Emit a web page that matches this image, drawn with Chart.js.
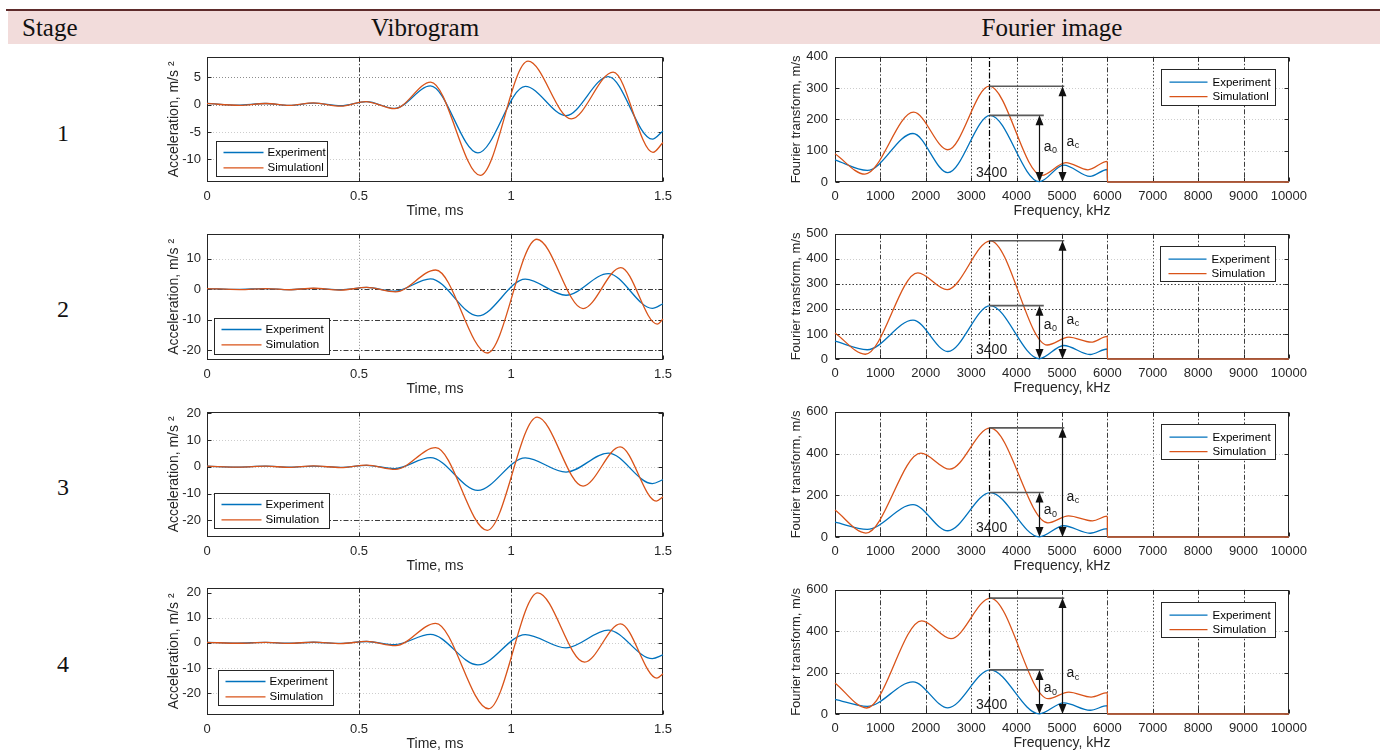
<!DOCTYPE html>
<html><head><meta charset="utf-8">
<script src="https://cdn.jsdelivr.net/npm/chart.js@4.4.1/dist/chart.umd.min.js"></script>
<style>
html,body{margin:0;padding:0;background:#fff;width:1380px;height:751px;overflow:hidden;position:relative;}
.topline{position:absolute;left:6px;top:9px;width:1374px;height:2px;background:#5e2b2b;}
.band{position:absolute;left:8px;top:11px;width:1372px;height:33px;background:#f2dcdb;}
.hd{position:absolute;top:11px;height:33px;line-height:33px;font-family:'Liberation Serif',serif;font-size:25px;color:#111;text-align:center;white-space:nowrap;}
.stage{position:absolute;left:43px;width:40px;height:30px;line-height:30px;text-align:center;font-family:'Liberation Serif',serif;font-size:24px;color:#111;}
canvas{position:absolute;}
</style></head><body>
<div class="topline"></div>
<div class="band"></div>
<div class="hd" style="left:22px;">Stage</div>
<div class="hd" style="left:325px;width:200px;">Vibrogram</div>
<div class="hd" style="left:952px;width:200px;">Fourier image</div>
<script>
// ---------------- DATA ----------------
const stageLabels = ['1', '2', '3', '4'];

// Vibrogram, time in ms, acceleration in m/s^2 (extrema)
const expTime  = [0, 0.1, 0.19, 0.27, 0.35, 0.44, 0.525, 0.617, 0.735, 0.891, 1.047, 1.181, 1.32, 1.465, 1.5];
const expAccel = [0.2, -0.1, 0.2, -0.15, 0.25, -0.2, 0.55, -0.7, 3.4, -8.8, 3.3, -2.0, 5.1, -6.3, -4.8];

const simTime1  = [0, 0.107, 0.195, 0.27, 0.35, 0.44, 0.522, 0.617, 0.736, 0.899, 1.056, 1.198, 1.336, 1.467, 1.5];
const simAccel1 = [0.2, -0.15, 0.2, -0.15, 0.3, -0.3, 0.55, -0.75, 4.1, -12.9, 7.9, -2.6, 5.9, -8.7, -6.9];
const simTime2  = [0, 0.107, 0.195, 0.27, 0.35, 0.44, 0.525, 0.62, 0.752, 0.922, 1.085, 1.237, 1.361, 1.481, 1.5];
const simAccel2 = [0.2, -0.15, 0.2, -0.2, 0.3, -0.3, 0.55, -0.9, 6.3, -21.0, 16.4, -6.4, 7.1, -11.5, -9.8];
const simTime3  = [0, 0.107, 0.195, 0.27, 0.35, 0.44, 0.525, 0.62, 0.752, 0.922, 1.086, 1.237, 1.359, 1.478, 1.5];
const simAccel3 = [0.2, -0.15, 0.2, -0.2, 0.3, -0.3, 0.6, -1.0, 7.1, -23.7, 18.5, -7.2, 7.4, -12.8, -11.2];
const simTime4  = [0, 0.107, 0.195, 0.27, 0.35, 0.44, 0.525, 0.62, 0.752, 0.926, 1.088, 1.242, 1.36, 1.48, 1.5];
const simAccel4 = [0.2, -0.15, 0.2, -0.2, 0.3, -0.3, 0.6, -1.1, 7.8, -26.3, 20.0, -7.7, 7.6, -14.1, -12.3];

const vibXTicks = [0, 0.5, 1, 1.5];
const vibYTicks1 = [-10, -5, 0, 5];
const vibYTicks2 = [-20, -10, 0, 10];
const vibYTicks3 = [-20, -10, 0, 10, 20];
const vibYTicks4 = [-20, -10, 0, 10, 20];
const vibYRange1 = [-14.1, 8.7];
const vibYRange2 = [-23.3, 18.2];
const vibYRange3 = [-26.2, 20.5];
const vibYRange4 = [-28.8, 22.0];

// Fourier image, frequency in kHz, amplitude in m/s
const expFreq = [0, 710, 1718, 2486, 3420, 4500, 5040, 5620, 6000, 6001, 10000];
const expAmp  = [71, 37, 155, 30, 213, 1, 54, 18, 40, 0, 0];

const simFreq1 = [0, 658, 1733, 2486, 3400, 4554, 5087, 5572, 6000, 6001, 10000];
const simAmp1  = [90, 25, 223, 103, 306, 21, 62, 39, 66, 0, 0];
const simFreq2 = [0, 667, 1825, 2470, 3424, 4675, 5150, 5644, 6000, 6001, 10000];
const simAmp2  = [104, 19, 344, 277, 472, 56, 87, 67, 90, 0, 0];
const simFreq3 = [0, 680, 1891, 2525, 3419, 4690, 5144, 5673, 6000, 6001, 10000];
const simAmp3  = [129, 19, 402, 325, 523, 68, 101, 77, 100, 0, 0];
const simFreq4 = [0, 697, 1910, 2555, 3424, 4697, 5150, 5644, 6000, 6001, 10000];
const simAmp4  = [150, 29, 450, 364, 560, 74, 106, 82, 103, 0, 0];

const fftXTicks = [0, 1000, 2000, 3000, 4000, 5000, 6000, 7000, 8000, 9000, 10000];
const fftYTicks1 = [0, 100, 200, 300, 400];
const fftYTicks2 = [0, 100, 200, 300, 400, 500];
const fftYTicks3 = [0, 200, 400, 600];
const fftYTicks4 = [0, 200, 400, 600];
const fftYMax = [400, 500, 600, 600];

// annotation values (kHz, m/s)
const peakFreq = 3400;
const simPeak = [306, 472, 523, 560];
const expPeak = [213, 213, 213, 213];
const markerTop = [400, 472, 523, 600];
const a0LabelAt = [112, 137, 129, 123];
const acLabelAt = [128, 157, 193, 195];

const simLabels = ['Simulationl', 'Simulation', 'Simulation', 'Simulation'];

// ---------------- STYLE / LAYOUT ----------------
const BLUE = '#0072BD', ORANGE = '#D95319';
const FONT = "'Liberation Sans', Arial, sans-serif";
Chart.defaults.font.family = FONT;
Chart.defaults.color = '#262626';

const GRID = {
  light: {color: '#cdcdcd', dash: [1, 2]},
  mid:   {color: '#8c8c8c', dash: [1, 2]},
  dot:   {color: '#3c3c3c', dash: [1.5, 2]},
  dash:  {color: '#3c3c3c', dash: [5, 2, 1.5, 2]}
};
const vibRows = [[57, 182], [234, 360], [412, 537], [588, 715]];
const fftRows = [[57, 182], [234, 359], [412, 537], [590, 714]];
const stageY = [133, 309, 487, 664];

const vibGridX = [
  [[0.5, 'dash'], [1, 'dash']],
  [[0.5, 'mid'], [1, 'dot']],
  [[0.5, 'mid'], [1, 'dash']],
  [[0.5, 'dash'], [1, 'dash']]
];
const vibGridY = [
  [[-10, 'light'], [-5, 'light'], [0, 'mid'], [5, 'mid']],
  [[-20, 'dash'], [-10, 'dash'], [0, 'dash'], [10, 'light']],
  [[-20, 'dash'], [-10, 'light'], [0, 'light'], [10, 'light']],
  [[-20, 'light'], [-10, 'light'], [0, 'light'], [10, 'light']]
];
const fftGridXStyle = [[1000,'dash'],[2000,'dash'],[3000,'dot'],[4000,'dot'],[5000,'dash'],[6000,'dash'],[7000,'dot'],[8000,'dash'],[9000,'dash']];
const fftGridY = [
  [[100,'light'],[200,'light'],[300,'light']],
  [[100,'dot'],[200,'dot'],[300,'dot'],[400,'light']],
  [[200,'light'],[400,'light']],
  [[200,'light'],[400,'light']]
];
const vibLegendBox = [[9, 83.7, 111, 35.3], [7, 84, 115, 35.6], [7, 81.5, 115, 35], [11, 82.5, 115, 35]];
const fftLegendBox = [[326, 12, 114, 36], [325, 12, 115, 34.6], [325.5, 11.7, 113.5, 35], [325.6, 12, 114, 35]];

// ---------------- HELPERS ----------------
function zip(xs, ys) { return xs.map((v, i) => ({x: v, y: ys[i]})); }
function strokeLine(ctx, x0, y0, x1, y1, st) {
  ctx.save(); ctx.strokeStyle = st.color; ctx.setLineDash(st.dash || []); ctx.lineWidth = st.width || 1;
  ctx.beginPath(); ctx.moveTo(x0, y0); ctx.lineTo(x1, y1); ctx.stroke(); ctx.restore();
}
function dblArrow(ctx, px, yb, yt) {
  ctx.save(); ctx.strokeStyle = '#111'; ctx.fillStyle = '#111'; ctx.lineWidth = 1.2; ctx.setLineDash([]);
  ctx.beginPath(); ctx.moveTo(px, yb - 6); ctx.lineTo(px, yt + 6); ctx.stroke();
  ctx.beginPath(); ctx.moveTo(px, yt); ctx.lineTo(px - 4, yt + 10); ctx.lineTo(px + 4, yt + 10); ctx.closePath(); ctx.fill();
  ctx.beginPath(); ctx.moveTo(px, yb); ctx.lineTo(px - 4, yb - 10); ctx.lineTo(px + 4, yb - 10); ctx.closePath(); ctx.fill();
  ctx.restore();
}
function subLabel(ctx, base, sub, x, y) {
  ctx.save(); ctx.fillStyle = '#1a1a1a'; ctx.textBaseline = 'middle'; ctx.textAlign = 'left';
  ctx.font = '14px ' + FONT; ctx.fillText(base, x, y);
  const w = ctx.measureText(base).width;
  ctx.font = '9px ' + FONT; ctx.fillText(sub, x + w + 0.5, y + 4);
  ctx.restore();
}

const matlabPlugin = {
  id: 'matlab',
  beforeDatasetsDraw(chart, args, o) {
    const {ctx, chartArea: a, scales: {x, y}} = chart;
    (o.gridX || []).forEach(([v, s]) => { const p = Math.round(x.getPixelForValue(v)) + 0.5; strokeLine(ctx, p, a.top, p, a.bottom, GRID[s]); });
    (o.gridY || []).forEach(([v, s]) => { const p = Math.round(y.getPixelForValue(v)) + 0.5; strokeLine(ctx, a.left, p, a.right, p, GRID[s]); });
    ctx.save(); ctx.strokeStyle = '#262626'; ctx.lineWidth = 1; ctx.setLineDash([]);
    const L = Math.round(a.left) + 0.5, R = Math.round(a.right) - 0.5, T = Math.round(a.top) + 0.5, B = Math.round(a.bottom) - 0.5;
    ctx.strokeRect(L, T, R - L, B - T);
    ctx.beginPath();
    x.ticks.forEach(t => { const p = Math.round(x.getPixelForValue(t.value)) + 0.5; ctx.moveTo(p, B); ctx.lineTo(p, B - 4); ctx.moveTo(p, T); ctx.lineTo(p, T + 4); });
    y.ticks.forEach(t => { const p = Math.round(y.getPixelForValue(t.value)) + 0.5; ctx.moveTo(L, p); ctx.lineTo(L + 4, p); ctx.moveTo(R, p); ctx.lineTo(R - 4, p); });
    ctx.stroke(); ctx.restore();
  },
  afterDatasetsDraw(chart, args, o) {
    const {ctx, chartArea: a, scales: {x, y}} = chart;
    const m = o.marks;
    if (m) {
      const px = v => x.getPixelForValue(v), py = v => y.getPixelForValue(v);
      strokeLine(ctx, Math.round(px(m.freq)) + 0.5, py(0), Math.round(px(m.freq)) + 0.5, py(m.top), {color: '#000', dash: [6, 2, 1.5, 2], width: 1.2});
      strokeLine(ctx, px(m.freq), py(m.sim), px(5050), py(m.sim), {color: '#5a5a5a', width: 1.6});
      strokeLine(ctx, px(m.freq), py(m.exp), px(4600), py(m.exp), {color: '#5a5a5a', width: 1.6});
      dblArrow(ctx, Math.round(px(5000)) + 0.5, py(0), py(m.sim));
      dblArrow(ctx, Math.round(px(4500)) + 0.5, py(0), py(m.exp));
      subLabel(ctx, 'a', '0', px(4600), py(m.a0));
      subLabel(ctx, 'a', 'c', px(5100), py(m.ac));
      ctx.save(); ctx.fillStyle = '#1a1a1a'; ctx.font = '14px ' + FONT; ctx.textAlign = 'center'; ctx.textBaseline = 'middle';
      ctx.fillText(String(m.freq), px(3450), a.bottom - 9); ctx.restore();
    }
    const lg = o.legend;
    if (lg) {
      const L = Math.round(a.left + lg.box[0]) + 0.5, T = Math.round(a.top + lg.box[1]) + 0.5, W = Math.round(lg.box[2]), H = Math.round(lg.box[3]);
      ctx.save();
      ctx.fillStyle = '#fff'; ctx.fillRect(L, T, W, H);
      ctx.strokeStyle = '#262626'; ctx.lineWidth = 1; ctx.setLineDash([]); ctx.strokeRect(L, T, W, H);
      const ds = chart.data.datasets;
      const rows = [ds[1], ds[0]];
      rows.forEach((d, i) => {
        const yy = T + lg.row0 + i * lg.gap;
        strokeLine(ctx, L + lg.s0, yy, L + lg.s1, yy, {color: d.borderColor, width: 1.3});
        ctx.fillStyle = '#000'; ctx.font = '11.5px ' + FONT; ctx.textBaseline = 'middle'; ctx.textAlign = 'left';
        ctx.fillText(d.label, L + lg.tx, yy + 0.5);
      });
      ctx.restore();
    }
  }
};

function makeChart(spec) {
  const cv = document.createElement('canvas');
  const plotH = spec.bottom - spec.top;
  const w = spec.yw + spec.plotW + 25, h = 10 + plotH + 40;
  cv.width = w; cv.height = h;
  cv.style.left = spec.left + 'px'; cv.style.top = (spec.top - 10) + 'px';
  cv.style.width = w + 'px'; cv.style.height = h + 'px';
  document.body.appendChild(cv);
  const common = {pointRadius: 0, borderWidth: 1.3, cubicInterpolationMode: 'monotone', fill: false, clip: false};
  const chart = new Chart(cv, {
    type: 'line',
    data: {datasets: [
      Object.assign({label: spec.simLabel, data: zip(spec.simX, spec.simY), borderColor: ORANGE}, common),
      Object.assign({label: 'Experiment', data: zip(spec.expX, spec.expY), borderColor: BLUE}, common)
    ]},
    options: {
      responsive: false, maintainAspectRatio: false, animation: false, devicePixelRatio: 1,
      layout: {padding: {top: 10, right: 25, bottom: 0, left: 0}},
      events: [],
      plugins: {legend: {display: false}, tooltip: {enabled: false},
        matlab: {gridX: spec.gridX, gridY: spec.gridY, marks: spec.marks, legend: spec.legend}},
      scales: {
        x: {type: 'linear', min: spec.xMin, max: spec.xMax,
          grid: {display: false, drawTicks: false}, border: {display: false},
          afterBuildTicks: s => { s.ticks = spec.xTicks.map(v => ({value: v})); },
          afterFit: s => { s.height = 40; },
          ticks: {padding: 7, autoSkip: false, maxRotation: 0, font: {size: 13}, color: '#262626', callback: v => String(v)},
          title: {display: true, text: spec.xTitle, font: {size: 14}, color: '#262626', padding: {top: 0, bottom: 2}}},
        y: {type: 'linear', min: spec.yMin, max: spec.yMax,
          grid: {display: false, drawTicks: false}, border: {display: false},
          afterBuildTicks: s => { s.ticks = spec.yTicks.map(v => ({value: v})); },
          afterFit: s => { s.width = spec.yw; },
          ticks: {padding: spec.yPad, autoSkip: false, font: {size: 13}, color: '#262626', callback: v => String(v)},
          title: {display: true, text: spec.yTitle, font: {size: spec.yTitleSize}, color: '#262626', padding: {top: spec.yTitlePad, bottom: 0}}}
      }
    },
    plugins: [matlabPlugin]
  });
  // fit the canvas so that the plot box lands exactly where the reference has it
  let ca = chart.chartArea;
  const nw = Math.round(ca.left + spec.plotW + (chart.width - ca.right));
  const nh = Math.round(ca.top + plotH + (chart.height - ca.bottom));
  if (nw !== chart.width || nh !== chart.height) chart.resize(nw, nh);
  ca = chart.chartArea;
  cv.style.left = Math.round(spec.left + spec.yw - ca.left) + 'px';
  cv.style.top = Math.round(spec.top - ca.top) + 'px';
  return chart;
}

// stage numbers
stageLabels.forEach((s, i) => {
  const d = document.createElement('div'); d.className = 'stage';
  d.style.top = (stageY[i] - 15) + 'px'; d.textContent = s; document.body.appendChild(d);
});

const simT = [simTime1, simTime2, simTime3, simTime4];
const simA = [simAccel1, simAccel2, simAccel3, simAccel4];
const vibYT = [vibYTicks1, vibYTicks2, vibYTicks3, vibYTicks4];
const vibYR = [vibYRange1, vibYRange2, vibYRange3, vibYRange4];
const simF = [simFreq1, simFreq2, simFreq3, simFreq4];
const simM = [simAmp1, simAmp2, simAmp3, simAmp4];
const fftYT = [fftYTicks1, fftYTicks2, fftYTicks3, fftYTicks4];

for (let i = 0; i < 4; i++) {
  makeChart({
    left: 150, yw: 57, plotW: 456, top: vibRows[i][0], bottom: vibRows[i][1],
    simLabel: simLabels[i], simX: simT[i], simY: simA[i], expX: expTime, expY: expAccel,
    xMin: 0, xMax: 1.5, xTicks: vibXTicks, yMin: vibYR[i][0], yMax: vibYR[i][1], yTicks: vibYT[i],
    xTitle: 'Time, ms', yTitle: 'Acceleration, m/s \u00B2', yTitleSize: 14, yPad: 6, yTitlePad: 16,
    gridX: vibGridX[i], gridY: vibGridY[i],
    legend: {box: vibLegendBox[i], row0: 11, gap: 15.3, s0: 7, s1: 47, tx: 51}
  });
  makeChart({
    left: 770, yw: 65, plotW: 454, top: fftRows[i][0], bottom: fftRows[i][1],
    simLabel: simLabels[i], simX: simF[i], simY: simM[i], expX: expFreq, expY: expAmp,
    xMin: 0, xMax: 10000, xTicks: fftXTicks, yMin: 0, yMax: fftYMax[i], yTicks: fftYT[i],
    xTitle: 'Frequency, kHz', yTitle: 'Fourier transform, m/s', yTitleSize: 13, yPad: 7, yTitlePad: 19,
    gridX: fftGridXStyle, gridY: fftGridY[i],
    marks: {freq: peakFreq, sim: simPeak[i], exp: expPeak[i], top: markerTop[i], a0: a0LabelAt[i], ac: acLabelAt[i]},
    legend: {box: fftLegendBox[i], row0: 12.7, gap: 14.5, s0: 8, s1: 46, tx: 51}
  });
}
</script>
</body></html>
